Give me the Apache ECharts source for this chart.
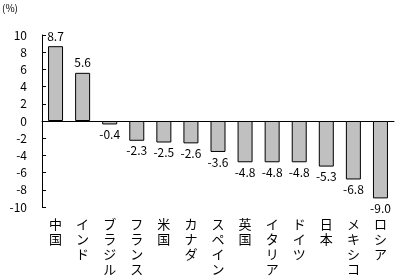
<!DOCTYPE html>
<html>
<head>
<meta charset="utf-8">
<script src="https://cdn.jsdelivr.net/npm/echarts@6/dist/echarts.min.js"></script>
<style>
  html, body { margin: 0; padding: 0; background: #fff; }
  #main { width: 397px; height: 277px; }
</style>
</head>
<body>
<div id="main"></div>
<script>
// 国名と成長率(%)
var countries = ['中国', 'インド', 'ブラジル', 'フランス', '米国', 'カナダ', 'スペイン', '英国', 'イタリア', 'ドイツ', '日本', 'メキシコ', 'ロシア'];
var growth = [8.7, 5.6, -0.4, -2.3, -2.5, -2.6, -3.6, -4.8, -4.8, -4.8, -5.3, -6.8, -9.0];
var yTicks = [-10, -8, -6, -4, -2, 0, 2, 4, 6, 8, 10];

var font = '"Noto Sans CJK JP", sans-serif';
var chart = echarts.init(document.getElementById('main'), null, { renderer: 'canvas' });

var option = {
  backgroundColor: '#ffffff',
  animation: false,
  textStyle: { fontFamily: font },
  graphic: [{
    type: 'text',
    left: 2,
    top: 3,
    style: { text: '(%)', fontSize: 10, fill: '#000', fontFamily: font }
  }],
  grid: { left: 42, right: 3, top: 35, bottom: 70 },
  xAxis: [{
    type: 'category',
    data: countries,
    axisLine: { onZero: true, lineStyle: { color: '#000', width: 1 } },
    axisTick: { inside: true, length: 4, lineStyle: { color: '#000' } },
    axisLabel: { show: false }
  }, {
    // 下側の国名ラベル用
    type: 'category',
    data: countries,
    position: 'bottom',
    axisLine: { show: false, onZero: false },
    axisTick: { show: false },
    axisLabel: {
      margin: 10,
      color: '#000',
      fontSize: 13,
      lineHeight: 15,
      verticalAlign: 'top',
      formatter: function (v) { return v.split('').join('\n'); }
    }
  }],
  yAxis: {
    type: 'value',
    min: -10,
    max: 10,
    interval: 2,
    splitLine: { show: false },
    axisLine: { show: true, lineStyle: { color: '#000' } },
    axisTick: { show: true, inside: true, length: 4, lineStyle: { color: '#000' } },
    axisLabel: {
      color: '#000',
      fontSize: 12,
      margin: 15,
      customValues: yTicks
    }
  },
  series: [{
    type: 'bar',
    data: growth,
    barWidth: 15,
    itemStyle: { color: '#c0c0c0', borderColor: '#000', borderWidth: 1 },
    label: {
      show: true,
      color: '#000',
      fontSize: 12,
      distance: 4,
      formatter: function (p) { return p.value.toFixed(1); },
      position: 'top'
    },
    labelLayout: null
  }]
};

// 負の値はバーの下にラベル
option.series[0].data = growth.map(function (v) {
  return {
    value: v,
    label: { position: v < 0 ? 'bottom' : 'top' }
  };
});

chart.setOption(option);
</script>
</body>
</html>
